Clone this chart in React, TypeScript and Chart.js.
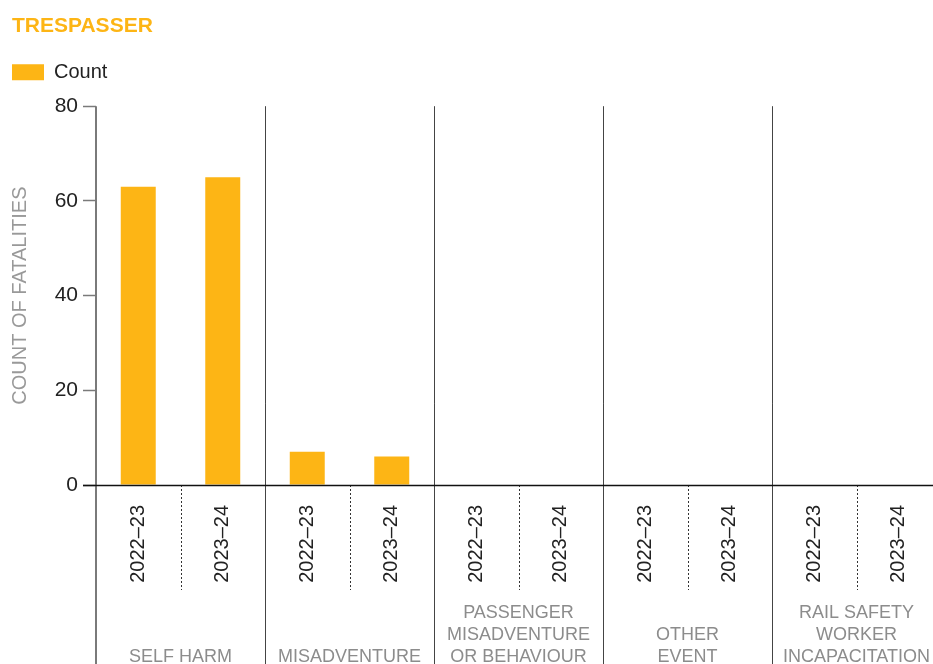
import { useEffect, useRef } from 'react';
import { Chart, registerables } from 'chart.js';

Chart.register(...registerables);

const chartTitle = 'TRESPASSER';
const seriesName = 'Count';
const yAxisTitle = 'COUNT OF FATALITIES';
const groups: string[][] = [
  ['SELF HARM'],
  ['MISADVENTURE'],
  ['PASSENGER', 'MISADVENTURE', 'OR BEHAVIOUR'],
  ['OTHER', 'EVENT'],
  ['RAIL SAFETY', 'WORKER', 'INCAPACITATION'],
];
const years = ['2022–23', '2023–24'];
const counts = [63, 65, 7, 6, 0, 0, 0, 0, 0, 0];
const yTicks = [0, 20, 40, 60, 80];

const categories = groups.flatMap(() => years);

const FONT = "'Liberation Sans', Arial, sans-serif";
const BAR = '#FDB515';

const groupPlugin = {
  id: 'groupDecor',
  afterDraw(chart: any) {
    const { ctx, chartArea, scales } = chart;
    const xs = scales.x;
    const per = years.length;
    const bottomEdge = chart.height;
    const axisY = Math.round(chartArea.bottom) + 0.5;
    ctx.save();
    // y axis line extending down through label area
    ctx.strokeStyle = '#7a7a7a';
    ctx.lineWidth = 2;
    ctx.beginPath();
    ctx.moveTo(Math.round(chartArea.left), chartArea.top);
    ctx.lineTo(Math.round(chartArea.left), bottomEdge);
    ctx.stroke();

    // group dividers
    ctx.strokeStyle = '#444';
    ctx.lineWidth = 1;
    for (let g = 0; g < groups.length; g++) {
      const last = g * per + per - 1;
      const xb = g === groups.length - 1
        ? chartArea.right
        : (xs.getPixelForValue(last) + xs.getPixelForValue(last + 1)) / 2;
      const px = Math.round(xb) + 0.5;
      ctx.beginPath();
      ctx.moveTo(px, chartArea.top);
      ctx.lineTo(px, bottomEdge);
      ctx.stroke();
    }

    // dotted separators within groups
    ctx.setLineDash([2, 2]);
    ctx.strokeStyle = '#333';
    for (let g = 0; g < groups.length; g++) {
      for (let k = 0; k < per - 1; k++) {
        const i = g * per + k;
        const xm = (xs.getPixelForValue(i) + xs.getPixelForValue(i + 1)) / 2;
        const px = Math.round(xm) + 0.5;
        ctx.beginPath();
        ctx.moveTo(px, chartArea.bottom);
        ctx.lineTo(px, chartArea.bottom + 105);
        ctx.stroke();
      }
    }
    ctx.setLineDash([]);

    // x axis line
    ctx.strokeStyle = '#111';
    ctx.lineWidth = 1.5;
    ctx.beginPath();
    ctx.moveTo(chartArea.left - 13, axisY);
    ctx.lineTo(chartArea.right, axisY);
    ctx.stroke();

    // group labels
    ctx.fillStyle = '#8c8c8c';
    ctx.font = `18px ${FONT}`;
    ctx.textAlign = 'center';
    ctx.textBaseline = 'middle';
    const lineH = 22;
    const lastLineY = chartArea.bottom + 172;
    groups.forEach((lines, g) => {
      const first = g * per;
      const cx = (xs.getPixelForValue(first) + xs.getPixelForValue(first + per - 1)) / 2;
      lines.forEach((t, j) => {
        const y = lastLineY - (lines.length - 1 - j) * lineH;
        ctx.fillText(t, cx, y);
      });
    });
    ctx.restore();
  },
};

export default function App() {
  const ref = useRef<HTMLCanvasElement | null>(null);
  useEffect(() => {
    if (!ref.current) return;
    Chart.defaults.font.family = FONT;
    const chart = new Chart(ref.current, {
      type: 'bar',
      data: {
        labels: categories,
        datasets: [
          {
            label: seriesName,
            data: counts,
            backgroundColor: BAR,
            borderWidth: 0,
            categoryPercentage: 1,
            barPercentage: 0.414,
          },
        ],
      },
      options: {
        animation: false,
        responsive: false,
        devicePixelRatio: 1,
        layout: { padding: { left: 12, right: 19, top: 0, bottom: 0 } },
        plugins: {
          title: {
            display: true,
            text: chartTitle,
            align: 'start',
            color: BAR,
            font: { size: 21, weight: 'bold', family: FONT },
            padding: { top: 14, bottom: 23 },
          },
          legend: {
            display: true,
            align: 'start',
            labels: {
              boxWidth: 32,
              boxHeight: 16,
              padding: 0,
              color: '#222',
              font: { size: 20, family: FONT },
            },
          },
          subtitle: {
            display: true,
            text: '',
            weight: 500,
            font: { size: 14, lineHeight: 1 },
            padding: 0,
          },
          tooltip: { enabled: false },
        } as any,
        scales: {
          x: {
            type: 'category',
            grid: { display: false, drawTicks: false },
            border: { display: false },
            ticks: {
              autoSkip: false,
              minRotation: 90,
              maxRotation: 90,
              padding: 20,
              color: '#222',
              font: { size: 20 },
            },
            afterFit(scale: any) {
              scale.height = 215;
            },
          },
          y: {
            min: 0,
            max: 80,
            afterBuildTicks(scale: any) {
              scale.ticks = yTicks.map((v) => ({ value: v }));
            },
            ticks: { padding: 5, color: '#222', font: { size: 21 } },
            grid: {
              drawOnChartArea: false,
              drawTicks: true,
              tickLength: 13,
              tickColor: '#7a7a7a',
              tickWidth: 1.5,
            },
            border: { display: false },
            title: {
              display: true,
              text: yAxisTitle,
              color: '#999',
              font: { size: 20, lineHeight: 0.8 },
              padding: 0,
            },
            afterFit(scale: any) {
              scale.width = 84;
            },
          },
        },
      } as any,
      plugins: [groupPlugin],
    });
    return () => chart.destroy();
  }, []);

  return (
    <div style={{ position: 'fixed', left: 0, top: 0, width: 933, height: 664, overflow: 'hidden', background: '#fff' }}>
      <canvas ref={ref} width={960} height={700} style={{ display: 'block' }} />
    </div>
  );
}
